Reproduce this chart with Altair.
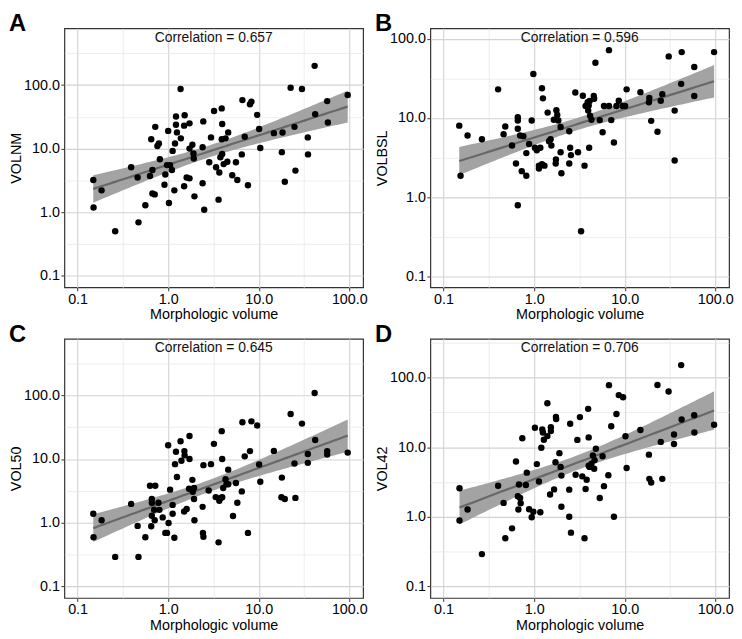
import altair as alt
import pandas as pd
import numpy as np

letters = ["A", "B", "C", "D"]
y_titles = ["VOLNM", "VOLBSL", "VOL50", "VOL42"]
correlations = ["0.657", "0.596", "0.645", "0.706"]
x_title = "Morphologic volume"
major_ticks = [0.1, 1.0, 10.0, 100.0]
minor_ticks = [0.0316, 0.316, 3.16, 31.6, 316.0]

# axis limits in log10 units
x_lim_log = [-1.146, 2.152]
y_lim_log = {"A": [-1.1855, 2.8955], "B": [-1.14, 2.134],
             "C": [-1.183, 2.888], "D": [-1.168, 2.557]}

a_x = [0.149, 0.15, 0.184, 0.26, 0.39, 0.46, 0.47, 0.56, 0.63, 0.65, 0.67, 0.67, 0.71, 0.72, 0.76, 0.79,
       0.81, 0.91, 0.93, 1.0, 0.97, 1.02, 1.05, 1.1, 1.12, 1.17, 1.19, 1.22, 1.22, 1.25, 1.37, 1.38, 1.5,
       1.52, 1.5, 1.6, 1.72, 1.72, 1.72, 1.85, 1.9, 1.92, 1.95, 2.44, 2.4, 2.4, 2.5, 2.84, 2.97, 3.21, 3.38,
       3.6, 3.67, 3.77, 3.9, 3.95, 3.9, 3.95, 4.1, 4.3, 4.5, 4.6, 5.1, 5.6, 5.8, 6.5, 6.6, 7.0, 7.6, 8.0,
       8.3, 9.6, 10.1, 10.4, 14.7, 18.3, 18.0, 19.4, 22.5, 24.8, 25.4, 30.0, 34.8, 35.0, 41.4, 42.0, 57.0,
       58.0, 96.0]
a_y = [3.2, 1.18, 2.2, 0.5, 5.1, 3.5, 0.69, 1.28, 3.7, 14, 4.6, 1.97, 1.9, 22, 11, 12,
       6.8, 2.7, 3.9, 19, 5.5, 1.39, 5.5, 4.6, 9.2, 2.2, 12, 32, 23.8, 18, 87, 14.5, 2.55,
       33.6, 23, 3.5, 3.4, 25, 10, 11.5, 8.4, 7.0, 1.77, 26.8, 10.5, 2.84, 1.09, 6.1, 15, 39, 5.1,
       1.57, 4.2, 7.3, 43, 24.4, 14, 8.2, 5.7, 14.5, 6.2, 18, 3.8, 6.1, 3.2, 8.1, 58, 15.4, 2.65, 50,
       55, 34, 20.4, 10.2, 17.5, 17.9, 8.8, 3.0, 91, 22, 4.5, 87, 15, 8.1, 201, 34.8, 56,
       25.8, 70]

b_x = [0.149, 0.154, 0.184, 0.265, 0.4, 0.46, 0.48, 0.57, 0.63, 0.66, 0.66, 0.66, 0.66, 0.7, 0.73, 0.76,
       0.82, 0.82, 0.88, 0.94, 0.98, 1.02, 1.07, 1.13, 1.13, 1.17, 1.22, 1.22, 1.25, 1.3, 1.41, 1.46, 1.52,
       1.55, 1.65, 1.74, 1.73, 1.76, 1.85, 1.8, 1.96, 1.96, 2.0, 2.44, 2.5, 2.44, 2.55, 2.85, 3.05, 3.3,
       3.45, 3.6, 3.7, 3.9, 3.95, 4.0, 4.05, 4.1, 4.15, 4.3, 4.55, 4.6, 4.75, 5.3, 5.7, 5.9, 6.7, 6.7, 7.1,
       7.6, 8.1, 8.6, 9.5, 10.1, 10.5, 14.9, 18.7, 18.5, 19.6, 23.0, 26.0, 25.0, 30.6, 35.6, 35.6, 42.0,
       42.6, 58.6, 58.6, 97.0]
b_y = [8.0, 1.86, 6.0, 5.4, 23, 6.25, 7.8, 4.5, 2.66, 0.79, 10.2, 9.3, 7.3, 6.0, 2.13, 5.9,
       1.86, 3.6, 4.7, 9.3, 36, 4.2, 3.9, 2.5, 2.3, 4.2, 23.8, 2.6, 17.7, 2.5, 11.7, 5.1, 5.4,
       4.5, 9.5, 3.0, 2.66, 12.5, 9.3, 10.9, 7.7, 3.7, 2.0, 6.8, 4.2, 2.66, 3.4, 21, 3.7, 0.37,
       19.1, 2.5, 14.2, 15.8, 12.4, 14.4, 4.2, 16.4, 10.7, 9.5, 19, 17.5, 50, 9.4, 6.6, 14.2, 14.2, 72, 9.4,
       4.9, 14.2, 16.5, 14.2, 14.2, 23, 21.2, 17.9, 15.8, 9.2, 6.7, 20, 16.5, 60, 12.4, 2.9, 27,
       68, 44, 19, 68]

c_x = [0.149, 0.15, 0.184, 0.26, 0.39, 0.46, 0.47, 0.56, 0.63, 0.72, 0.66, 0.66, 0.66, 0.65, 0.7, 0.71,
       0.78, 0.8, 0.87, 0.93, 0.97, 1.0, 1.01, 1.05, 1.12, 1.12, 1.17, 1.19, 1.22, 1.25, 1.37, 1.4, 1.5,
       1.52, 1.51, 1.6, 1.7, 1.72, 1.72, 1.85, 1.87, 1.93, 1.93, 1.95, 2.4, 2.45, 2.42, 2.45, 2.8, 2.97,
       3.2, 3.35, 3.6, 3.67, 3.8, 3.9, 3.95, 3.95, 4.05, 4.3, 4.4, 4.6, 4.6, 5.2, 5.6, 5.8, 6.5, 6.6, 7.0,
       7.6, 8.0, 8.3, 9.6, 10.1, 10.4, 14.7, 18.0, 17.8, 19.4, 22.5, 24.8, 25.4, 30.0, 34.8, 34.8, 41.4,
       42.0, 57.0, 57.0, 96.0]
c_y = [1.38, 0.59, 1.09, 0.29, 1.97, 0.89, 0.29, 0.59, 3.8, 3.8, 2.35, 2.06, 1.28, 0.88, 1.59, 1.09,
       2.05, 1.59, 1.21, 0.69, 0.69, 16.4, 0.99, 3.3, 1.9, 1.38, 0.58, 8.3, 13, 5.2, 19, 9.4, 1.5,
       11.4, 13.3, 1.64, 3.4, 10, 23, 4.7, 3.05, 3.5, 2.35, 1.09, 1.77, 8.0, 0.69, 0.6, 3.2, 8.3,
       17.3, 2.52, 0.49, 2.2, 2.45, 27.4, 10, 2.5, 3.5, 4.8, 4.0, 6.8, 4.0, 1.27, 4.2, 2.06, 3.1, 37.8, 11,
       0.69, 13.3, 39, 33.6, 8.2, 4.4, 13.4, 5.1, 2.5, 2.35, 50.8, 8.5, 2.45, 36, 12, 8.7, 108.6,
       19.9, 13.3, 11.8, 12.6]

d_x = [0.15, 0.15, 0.184, 0.265, 0.4, 0.46, 0.48, 0.57, 0.63, 0.66, 0.67, 0.68, 0.7, 0.71, 0.74, 0.81,
       0.83, 0.88, 0.94, 0.98, 1.02, 1.07, 1.13, 1.17, 1.2, 1.23, 1.25, 1.28, 1.4, 1.4, 1.5, 1.53, 1.53,
       1.66, 1.72, 1.75, 1.74, 1.9, 1.96, 2.0, 2.0, 2.44, 2.44, 2.5, 2.55, 2.87, 3.0, 3.2, 3.4, 3.6, 3.7,
       3.8, 3.95, 4.0, 4.0, 4.1, 4.3, 4.45, 4.6, 4.65, 4.8, 5.3, 5.7, 5.9, 6.6, 6.7, 7.1, 7.6, 8.1, 8.6,
       9.6, 10.2, 10.5, 14.9, 18.5, 18.7, 19.6, 23.0, 25.0, 26.0, 30.5, 35.0, 35.0, 42.0, 42.5, 58.5,
       58.8, 97.0]
d_y = [2.56, 0.88, 1.27, 0.29, 2.79, 1.58, 0.49, 0.68, 6.2, 1.97, 1.27, 2.9, 1.86, 1.56, 13.4, 2.85,
       4.3, 1.28, 0.98, 1.18, 19, 5.7, 3.2, 1.16, 9.8, 18, 16.2, 12.8, 42.7, 14.4, 2.08, 19.3, 17,
       2.47, 6.05, 25.3, 27.2, 8.2, 5.2, 3.9, 1.39, 1.0, 2.45, 21.7, 0.59, 4.0, 12.7, 27, 3.8, 0.49, 2.5,
       3.4, 35.5, 13.8, 5.4, 5.2, 5.8, 7.6, 4.9, 6.5, 9.5, 1.86, 7.4, 2.75, 3.95, 77.8, 20, 1.0, 30, 56,
       52, 14.3, 5.0, 17.6, 7.8, 3.5, 3.1, 78, 11.9, 3.5, 63, 15.2, 11.1, 151, 25, 28.8,
       16.2, 21]

panel_x = [a_x, b_x, c_x, d_x]
panel_y = [a_y, b_y, c_y, d_y]

W, H = 302, 262
FONT = "Liberation Sans"
DECADE = "abs(log(datum.value)/LN10 - round(log(datum.value)/LN10)) < 0.01"


def axis_values(lim):
    lo, hi = 10 ** lim[0], 10 ** lim[1]
    return [v for v in sorted(major_ticks + minor_ticks) if lo <= v <= hi]


def make_axis(title, lim, orient):
    return alt.Axis(
        title=title,
        values=axis_values(lim),
        labelExpr=f"({DECADE}) ? format(datum.value, '.1f') : ''",
        grid=True,
        gridColor={"condition": {"test": DECADE, "value": "#d3d3d3"}, "value": "#e6e6e6"},
        gridWidth={"condition": {"test": DECADE, "value": 1.1}, "value": 0.7},
        tickOpacity={"condition": {"test": DECADE, "value": 1}, "value": 0},
        ticks=True,
        tickSize=3.5,
        tickColor="#333333",
        domain=False,
        labelOverlap=False,
        labelFlush=False,
        labelFontSize=14.5,
        labelColor="#000000",
        labelPadding=1.5,
        titleFontSize=14.5,
        titleFontWeight="normal",
        titleColor="#000000",
        titlePadding=2 if orient == "bottom" else 0,
        orient=orient,
    )


def panel(i):
    letter = letters[i]
    xs = np.array(panel_x[i], dtype=float)
    ys = np.array(panel_y[i], dtype=float)
    ylim = y_lim_log[letter]

    # linear fit in log-log space with 95% confidence band
    lx, ly = np.log10(xs), np.log10(ys)
    n = len(lx)
    b1, b0 = np.polyfit(lx, ly, 1)
    resid = ly - (b0 + b1 * lx)
    s = np.sqrt((resid ** 2).sum() / (n - 2))
    xbar = lx.mean()
    sxx = ((lx - xbar) ** 2).sum()
    g = np.linspace(lx.min(), lx.max(), 80)
    fit = b0 + b1 * g
    se = s * np.sqrt(1.0 / n + (g - xbar) ** 2 / sxx)
    t = 1.987
    fit_df = pd.DataFrame({"x": 10 ** g, "fit": 10 ** fit,
                           "lo": 10 ** (fit - t * se), "hi": 10 ** (fit + t * se)})
    pts = pd.DataFrame({"x": xs, "y": ys})

    xscale = alt.Scale(type="log", domain=[10 ** x_lim_log[0], 10 ** x_lim_log[1]], nice=False)
    yscale = alt.Scale(type="log", domain=[10 ** ylim[0], 10 ** ylim[1]], nice=False)
    xenc = alt.X("x:Q", scale=xscale, axis=make_axis(x_title, x_lim_log, "bottom"))
    yaxis = make_axis(y_titles[i], ylim, "left")

    band = alt.Chart(fit_df).mark_area(color="#a3a3a3", opacity=1).encode(
        x=xenc, y=alt.Y("lo:Q", scale=yscale, axis=yaxis), y2="hi:Q")
    line = alt.Chart(fit_df).mark_line(color="#686868", strokeWidth=2.2).encode(
        x=xenc, y=alt.Y("fit:Q", scale=yscale, axis=yaxis))
    dots = alt.Chart(pts).mark_circle(size=42, color="black", opacity=1).encode(
        x=xenc, y=alt.Y("y:Q", scale=yscale, axis=yaxis))

    lab = pd.DataFrame({"t": ["Correlation = " + correlations[i]], "l": [letter]})
    corr = alt.Chart(lab).mark_text(fontSize=14, font=FONT, color="#111111",
                                    align="center", baseline="middle").encode(
        x=alt.value(W / 2), y=alt.value(9.5), text="t:N")
    let = alt.Chart(lab).mark_text(fontSize=24, font=FONT, fontWeight="bold", color="black",
                                   align="left", baseline="alphabetic").encode(
        x=alt.value(-56), y=alt.value(3), text="l:N")

    return alt.layer(band, line, dots, corr, let).properties(width=W, height=H)


top = alt.hconcat(panel(0), panel(1), spacing=6)
bottom = alt.hconcat(panel(2), panel(3), spacing=6)
chart = alt.vconcat(top, bottom, spacing=0).properties(padding=0).configure(
    font=FONT).configure_view(stroke="#333333", strokeWidth=1.2)

chart.save("out.html", embed_options={"renderer": "svg", "actions": False})
